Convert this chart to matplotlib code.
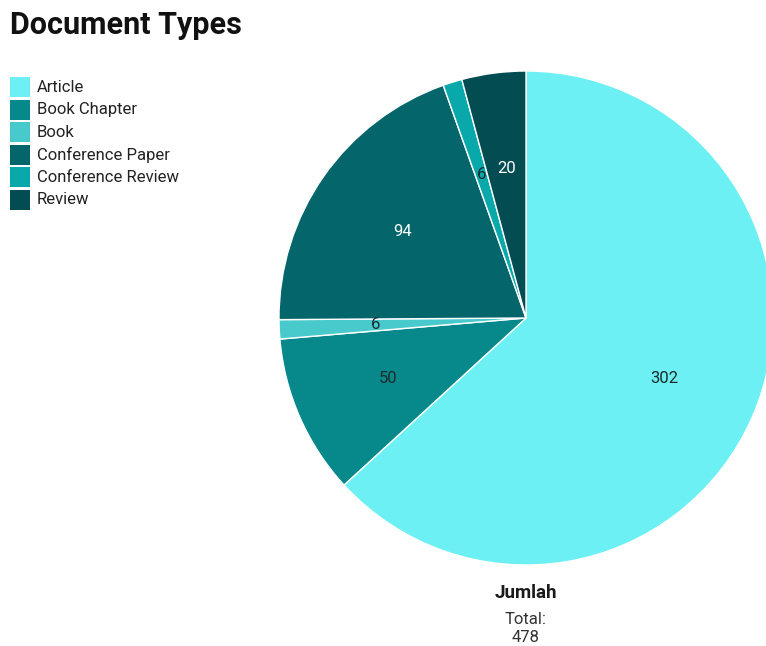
import matplotlib.pyplot as plt
from matplotlib.patches import Rectangle

plt.rcParams['font.family'] = ['Roboto', 'DejaVu Sans']

categories = ['Article', 'Book Chapter', 'Book', 'Conference Paper',
              'Conference Review', 'Review']
counts = [302, 50, 6, 94, 6, 20]
colors = ['#6cf0f3', '#07888b', '#48cacd', '#04656b', '#09a9ab', '#034c52']
label_colors = ['#1c2b2c', '#1c2b2c', '#1c2b2c', 'white', '#1c2b2c', 'white']

W, H = 766, 646
fig = plt.figure(figsize=(W / 100, H / 100), dpi=100)

# pie centre (526, 318) px, radius 247 px
cx, cy, r = 526, 318, 247
ax = fig.add_axes([(cx - r) / W, (H - cy - r) / H, 2 * r / W, 2 * r / H])
wedges, texts = ax.pie(counts, labels=[str(c) for c in counts],
                       colors=colors, startangle=90, counterclock=False,
                       labeldistance=0.61,
                       wedgeprops=dict(edgecolor='white', linewidth=1))
for t, c in zip(texts, label_colors):
    t.set_color(c)
    t.set_fontsize(12)
    t.set_ha('center')
    t.set_va('center')
for w in wedges:
    w.set_clip_on(False)
ax.set_xlim(-1, 1)
ax.set_ylim(-1, 1)
ax.set_aspect('equal')
ax.axis('off')

fig.text(10 / W, 1 - 25 / H, 'Document Types', fontsize=22, fontweight='bold',
         va='center', ha='left', color='#111111')

# legend
for i, (name, col) in enumerate(zip(categories, colors)):
    top = 77 + i * 22.6
    fig.add_artist(Rectangle((10 / W, 1 - (top + 20) / H), 20 / W, 20 / H,
                             transform=fig.transFigure, facecolor=col,
                             edgecolor='none'))
    fig.text(37 / W, 1 - (top + 10) / H, name, fontsize=12, va='center',
             ha='left', color='#222222')

total = sum(counts)
fig.text(cx / W, 1 - 593 / H, 'Jumlah', fontsize=13.5, fontweight='bold',
         ha='center', va='center', color='#1a1a1a')
fig.text(cx / W, 1 - 620 / H, 'Total:', fontsize=12,
         ha='center', va='center', color='#333333')
fig.text(cx / W, 1 - 637 / H, str(total), fontsize=12,
         ha='center', va='center', color='#333333')

fig.savefig('out.png', dpi=100)
